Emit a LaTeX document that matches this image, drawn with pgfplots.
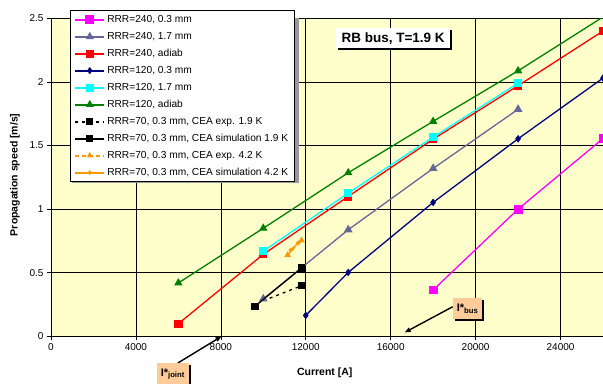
\documentclass[border=0pt]{standalone}
\usepackage{fontspec}
\setmainfont{Liberation Sans}
\usepackage{pgfplots}
\pgfplotsset{compat=1.18}
\usetikzlibrary{shadows,arrows.meta}
\definecolor{bg}{HTML}{FFFFCC}
\definecolor{slate}{HTML}{666699}
\definecolor{navy}{HTML}{000080}
\definecolor{orng}{HTML}{FF9900}
\definecolor{peach}{HTML}{FFCC99}
\definecolor{grn}{HTML}{008000}
\definecolor{mag}{HTML}{FF00FF}
\definecolor{cyn}{HTML}{00FFFF}
\definecolor{rd}{HTML}{FF0000}
\begin{document}
\begin{tikzpicture}[font=\fontsize{10bp}{12bp}\selectfont]
\begin{axis}[name=ax, at={(0,0)}, anchor=south west,
  scale only axis, width=552.5bp, height=318.4bp,
  xmin=0, xmax=26000, ymin=0, ymax=2.5,
  xtick={0,4000,8000,12000,16000,20000,24000},
  xticklabels={0,4000,8000,12000,16000,20000,24000},
  scaled x ticks=false,
  ytick={0,0.5,1,1.5,2,2.5},
  yticklabels={0,0.5,1,1.5,2,2.5},
  grid=major, major grid style={black, line width=0.6bp},
  axis line style={black, line width=0.8bp},
  tick align=outside, major tick length=4bp, tick style={black, line width=0.6bp},
  tick pos=left,
  axis background/.style={fill=bg},
  /pgf/number format/assume math mode=true,
  /pgf/number format/1000 sep={},
  ticklabel style={font=\fontsize{10bp}{12bp}\selectfont},
  xlabel={Current [A]}, ylabel={Propagation speed [m/s]},
  label style={font=\bfseries\fontsize{10.5bp}{12bp}\selectfont},
  xlabel style={at={(axis description cs:0.496,-0.113)}, anchor=center},
  ylabel style={at={(axis description cs:-0.0652,0.508)}, anchor=center},
  clip marker paths=true,
  legend style={at={(axis description cs:0.0344,1.025)}, anchor=north west,
    draw=black, line width=0.7bp, fill=white,
    font=\fontsize{10.2bp}{12bp}\selectfont,
    cells={anchor=west}, inner xsep=4bp, inner ysep=0.5bp, row sep=0bp,
    nodes={text height=7.6bp, text depth=2.2bp, inner ysep=3.6bp, inner xsep=2bp}},
  legend image code/.code={%
    \draw[#1, line width=2bp, mark=none] (0bp,0bp) -- (29bp,0bp);
    \draw[#1, line width=1bp, only marks, mark indices={1}] plot coordinates {(14.5bp,0bp)};},
]
\fill[gray!80] (axis cs:988,1.205) rectangle (axis cs:11671,2.55);
\addplot[mag, line width=1.3bp, mark=square*, mark size=3.8bp] coordinates {(18000,0.365)(22000,1.00)(26000,1.555)};
\addlegendentry{RRR=240, 0.3 mm}
\addplot[slate, line width=1.3bp, mark=triangle*, mark size=3.8bp] coordinates {(10000,0.295)(14000,0.838)(18000,1.32)(22000,1.785)};
\addlegendentry{RRR=240, 1.7 mm}
\addplot[rd, line width=1.3bp, mark=square*, mark size=3.5bp] coordinates {(6000,0.10)(10000,0.645)(14000,1.10)(18000,1.55)(22000,1.97)(26000,2.40)};
\addlegendentry{RRR=240, adiab}
\addplot[navy, line width=1.3bp, mark=diamond*, mark size=2.8bp] coordinates {(12000,0.165)(14000,0.503)(18000,1.053)(22000,1.553)(26000,2.03)};
\addlegendentry{RRR=120, 0.3 mm}
\addplot[cyn, line width=1.3bp, mark=square*, mark size=3.5bp] coordinates {(10000,0.67)(14000,1.126)(18000,1.566)(22000,1.99)};
\addlegendentry{RRR=120, 1.7 mm}
\addplot[grn, line width=1.3bp, mark=triangle*, mark size=3.6bp] coordinates {(6000,0.42)(10000,0.85)(14000,1.286)(18000,1.69)(22000,2.087)(26000,2.51)};
\addlegendentry{RRR=120, adiab}
\addplot[black, line width=1.3bp, dash pattern=on 3bp off 4bp, mark=square*, mark size=3bp, mark options={solid}, mark indices={2}] coordinates {(10300,0.30)(11800,0.398)};
\addlegendentry{RRR=70, 0.3 mm, CEA exp. 1.9 K}
\addplot[black, line width=1.3bp, mark=square*, mark size=3.2bp] coordinates {(9600,0.236)(11800,0.537)};
\addlegendentry{RRR=70, 0.3 mm, CEA simulation 1.9 K}
\addplot[orng, line width=1.3bp, dash pattern=on 4bp off 3bp, mark=triangle*, mark size=2.6bp, mark options={solid}] coordinates {(11150,0.64)(11800,0.755)};
\addlegendentry{RRR=70, 0.3 mm, CEA exp. 4.2 K}
\addplot[orng, line width=1.3bp, mark=*, mark size=1.6bp] coordinates {(11300,0.68)(11650,0.735)};
\addlegendentry{RRR=70, 0.3 mm, CEA simulation 4.2 K}
\coordinate (t) at (axis cs:16118,2.346);
\coordinate (jbox) at (axis cs:5741,-0.295);
\coordinate (ja) at (axis cs:5976,-0.209);
\coordinate (jb) at (axis cs:8033,0.0);
\coordinate (bbox) at (axis cs:19624,0.218);
\coordinate (ba) at (axis cs:18918,0.233);
\coordinate (bb) at (axis cs:16659,0.031);
\end{axis}
\node[fill=white, font=\bfseries\fontsize{13.5bp}{15bp}\selectfont, text height=9.5bp, text depth=0bp, inner xsep=5.5bp, inner ysep=5.3bp,
  drop shadow={shadow xshift=2bp, shadow yshift=-2bp, fill=black, opacity=1}] at (t) {RB bus, T=1.9 K};
\draw[black, line width=1.4bp, -{Triangle[length=6bp,width=4.5bp]}] (ja) -- (jb);
\draw[black, line width=1.4bp, -{Triangle[length=6bp,width=4.5bp]}] (ba) -- (bb);
\node[fill=peach, font=\bfseries\fontsize{11bp}{13bp}\selectfont, minimum width=32.5bp, minimum height=21bp, inner sep=1bp,
  drop shadow={shadow xshift=2bp, shadow yshift=-2bp, fill=black, opacity=1}] at (jbox) {I*\textsubscript{joint}};
\node[fill=peach, font=\bfseries\fontsize{11bp}{13bp}\selectfont, minimum width=29.5bp, minimum height=21bp, inner sep=1bp,
  drop shadow={shadow xshift=2bp, shadow yshift=-2bp, fill=black, opacity=1}] at (bbox) {I*\textsubscript{bus}};
\pgfresetboundingbox
\path[use as bounding box, shift={(ax.south west)}] (-51bp,-47.3bp) rectangle (552.5bp,336.7bp);
\end{tikzpicture}
\end{document}
